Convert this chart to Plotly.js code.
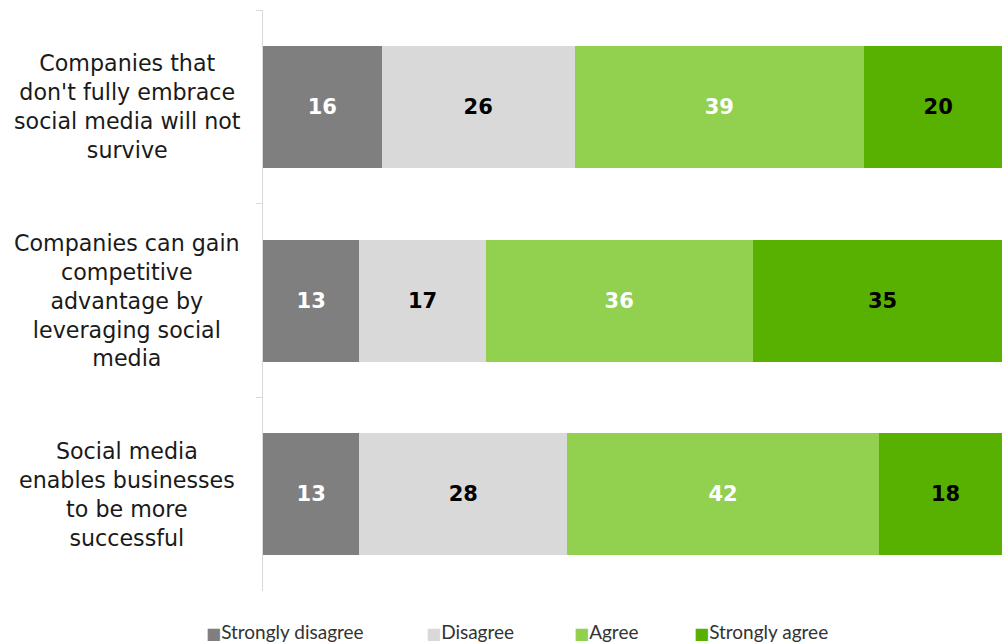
<!DOCTYPE html>
<html>
<head>
<meta charset="utf-8">
<script src="https://cdn.plot.ly/plotly-3.0.1.min.js"></script>
<style>
  html, body { margin: 0; padding: 0; background: #ffffff; }
  #chart { width: 1002px; height: 643px; }
</style>
</head>
<body>
<div id="chart"></div>
<script>
// ---- Data ----
const categories = [
  "Companies that<br>don't fully embrace<br>social media will not<br>survive",
  "Companies can gain<br>competitive<br>advantage by<br>leveraging social<br>media",
  "Social media<br>enables businesses<br>to be more<br>successful"
];
const seriesNames = ["Strongly disagree", "Disagree", "Agree", "Strongly agree"];
const stronglyDisagree = [16, 13, 13];
const disagree = [26, 17, 28];
const agree = [39, 36, 42];
const stronglyAgree = [20, 35, 18];

// ---- Styles ----
const seriesValues = [stronglyDisagree, disagree, agree, stronglyAgree];
const barColors = ["#7f7f7f", "#d9d9d9", "#92d050", "#58b000"];
const textColors = ["#ffffff", "#000000", "#ffffff", "#000000"];
const legendX = [-0.0785, 0.2192, 0.4195, 0.5819];

const traces = seriesNames.map((name, i) => ({
  type: "bar",
  orientation: "h",
  name: name,
  y: categories,
  x: seriesValues[i],
  marker: { color: barColors[i], line: { width: 0 } },
  texttemplate: "%{x}",
  textposition: "inside",
  insidetextanchor: "middle",
  textangle: 0,
  constraintext: "none",
  textfont: { family: "DejaVu Sans", size: 21, color: textColors[i], weight: "bold" },
  hoverinfo: "name+x",
  showlegend: false
}));

const annotations = [];
categories.forEach(c => {
  annotations.push({
    xref: "paper", yref: "y",
    x: -0.1840, y: c,
    xanchor: "center", yanchor: "middle",
    align: "center",
    text: c,
    showarrow: false,
    font: { family: "DejaVu Sans", size: 22.2, color: "#1a1a1a" }
  });
});
seriesNames.forEach((name, i) => {
  annotations.push({
    xref: "paper", yref: "paper",
    x: legendX[i], y: -0.069,
    xanchor: "left", yanchor: "middle",
    align: "left",
    showarrow: false,
    borderpad: 0,
    text: '<span style="color:' + barColors[i] + ';font-family:DejaVu Sans;font-size:16px">■</span>' + name,
    font: { family: "Lato", size: 19, color: "#333333" }
  });
});

const layout = {
  width: 1002,
  height: 643,
  margin: { l: 263, r: 0, t: 10, b: 52, pad: 0 },
  paper_bgcolor: "#ffffff",
  plot_bgcolor: "#ffffff",
  barmode: "stack",
  bargap: 0.37,
  showlegend: false,
  xaxis: {
    range: [0, 99.6],
    visible: false,
    showgrid: false,
    zeroline: false,
    fixedrange: true
  },
  yaxis: {
    type: "category",
    range: [2.5, -0.5],
    showline: true,
    linecolor: "#d9d9d9",
    linewidth: 1,
    ticks: "outside",
    tickson: "boundaries",
    ticklen: 6,
    tickcolor: "#d9d9d9",
    tickwidth: 1,
    showticklabels: false,
    showgrid: false,
    zeroline: false,
    fixedrange: true
  },
  annotations: annotations
};

Plotly.newPlot("chart", traces, layout, { displayModeBar: false, staticPlot: true });
</script>
</body>
</html>
